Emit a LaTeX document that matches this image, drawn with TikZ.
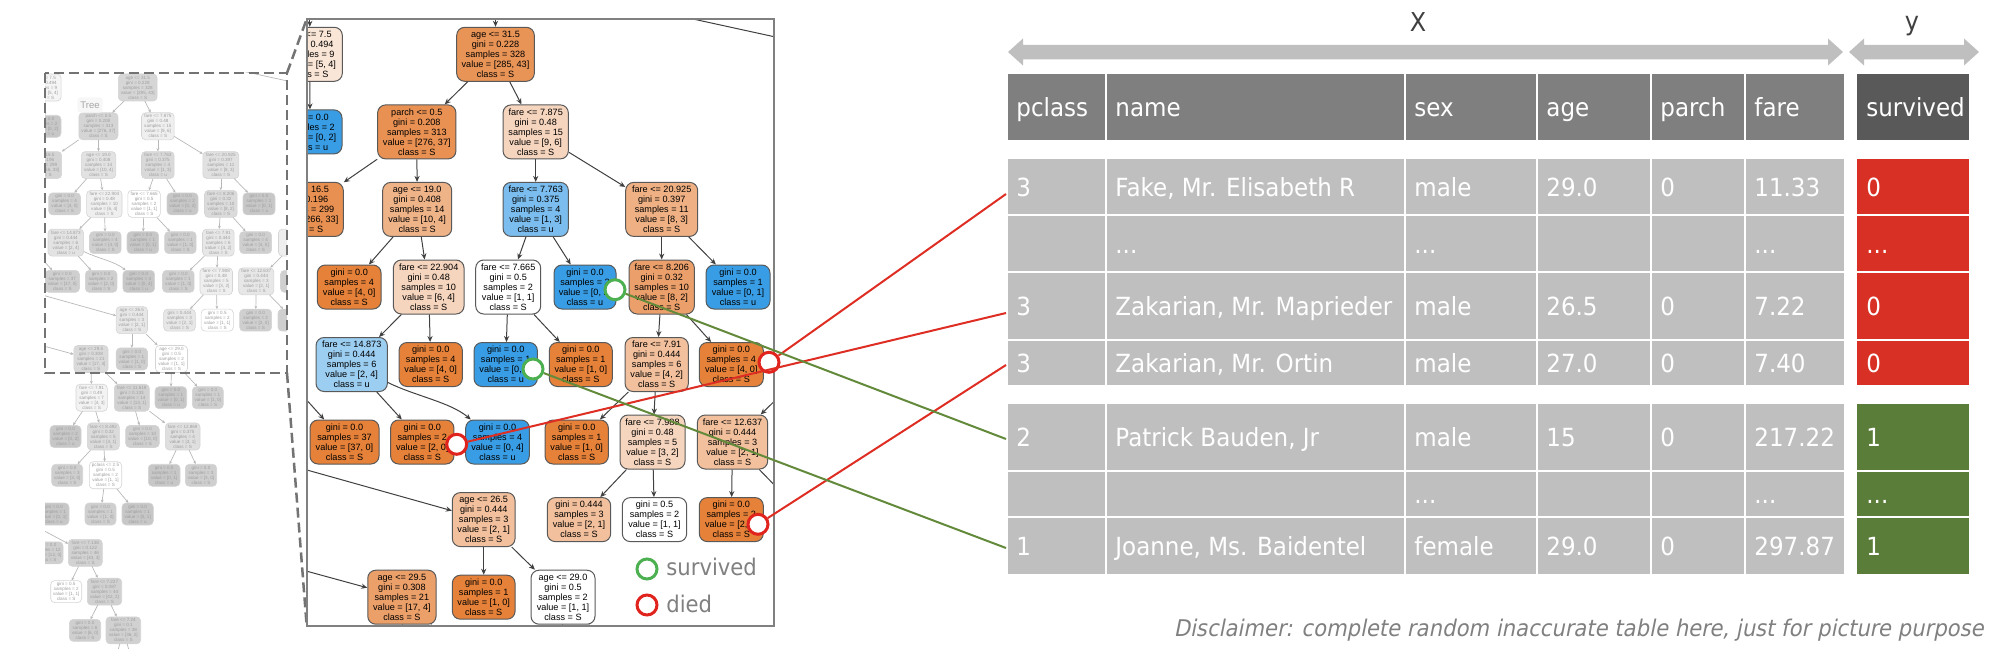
\documentclass[tikz,border=0pt]{standalone}
\usepackage{fontspec}
\setmainfont{Liberation Sans}
\newfontfamily\tabfont[FakeStretch=0.92]{DejaVu Sans}
\newfontfamily\discfont[FakeStretch=0.92,FakeSlant=0.2]{DejaVu Sans}
\usetikzlibrary{arrows.meta}
\definecolor{tOr}{RGB}{229,129,57}
\definecolor{tBl}{RGB}{57,157,229}
\definecolor{cellgray}{RGB}{191,191,191}
\definecolor{headgray}{RGB}{127,127,127}
\definecolor{headdark}{RGB}{89,89,89}
\definecolor{cellred}{RGB}{217,48,37}
\definecolor{cellgreen}{RGB}{91,125,58}
\definecolor{linered}{RGB}{222,45,35}
\definecolor{linegreen}{RGB}{98,138,58}
\definecolor{circgreen}{RGB}{76,175,80}
\definecolor{circred}{RGB}{225,35,30}
\definecolor{arrowgray}{RGB}{191,191,191}
\definecolor{panelgray}{RGB}{128,128,128}
\definecolor{labgray}{RGB}{64,64,64}
\colorlet{tO}{tOr}\colorlet{tB}{tBl}
\colorlet{ttext}{black}\colorlet{tdraw}{black!65}\colorlet{tedge}{black!75}
\tikzset{
 tn/.style={draw=tdraw, line width=0.5pt, rounded corners=4pt, align=center, inner sep=0pt, text=ttext, font=\fontsize{4.56}{5}\selectfont},
 tn5/.style={tn, minimum height=27pt},
 tn4/.style={tn, minimum height=22pt},
 wpx/.style={minimum width=#1*0.5pt},
 fo/.style={fill=tO!#1!white},
 fb/.style={fill=tB!#1!white},
 te/.style={draw=tedge, line width=0.5pt, -{Stealth[length=3pt,width=2.6pt]}},
 tl/.style={draw=tedge, line width=0.5pt},
 tt/.style={anchor=base west, text=white, inner sep=0pt, font=\tabfont\fontsize{12.5}{15}\selectfont},
 circ/.style={circle, minimum size=10pt, inner sep=0pt, line width=1.5pt, fill=white},
 con/.style={line width=1pt},
 legtxt/.style={anchor=base west, inner sep=0pt, text=panelgray, font=\tabfont\fontsize{11.5}{13}\selectfont},
 lab/.style={anchor=base, inner sep=0pt, text=labgray, font=\tabfont\fontsize{13}{15}\selectfont},
}
\newcommand\drawtree{%
\node[tn5,fo=20,wpx=65] (p1) at (309.8,54.3) {age <= 7.5\\gini = 0.494\\samples = 9\\value = [5, 4]\\class = S};
\node[tn4,fb=100,wpx=64] (p2) at (310,131.9) {gini = 0.0\\samples = 2\\value = [0, 2]\\class = u};
\node[tn5,fo=88,wpx=77.6] (p3) at (304.5,209.4) {age <= 16.5\\gini = 0.196\\samples = 299\\value = [266, 33]\\class = S};
\node[tn5,fo=85,wpx=77.6] (n0) at (495.5,54.3) {age <= 31.5\\gini = 0.228\\samples = 328\\value = [285, 43]\\class = S};
\node[tn5,fo=87,wpx=78.3] (n1) at (416.8,131.9) {parch <= 0.5\\gini = 0.208\\samples = 313\\value = [276, 37]\\class = S};
\node[tn5,fo=33,wpx=65.3] (n2) at (535.7,131.9) {fare <= 7.875\\gini = 0.48\\samples = 15\\value = [9, 6]\\class = S};
\node[tn5,fo=60,wpx=69] (n3) at (417.2,209.4) {age <= 19.0\\gini = 0.408\\samples = 14\\value = [10, 4]\\class = S};
\node[tn5,fb=67,wpx=65.3] (n4) at (535.7,209.4) {fare <= 7.763\\gini = 0.375\\samples = 4\\value = [1, 3]\\class = u};
\node[tn5,fo=62,wpx=72] (n5) at (661.7,209.4) {fare <= 20.925\\gini = 0.397\\samples = 11\\value = [8, 3]\\class = S};
\node[tn4,fo=100,wpx=63.7] (n6) at (349.2,287) {gini = 0.0\\samples = 4\\value = [4, 0]\\class = S};
\node[tn5,fo=33,wpx=70.7] (n7) at (428.7,287) {fare <= 22.904\\gini = 0.48\\samples = 10\\value = [6, 4]\\class = S};
\node[tn5,fo=0,wpx=65] (n8) at (508.2,287) {fare <= 7.665\\gini = 0.5\\samples = 2\\value = [1, 1]\\class = S};
\node[tn4,fb=100,wpx=62] (n9) at (585,287) {gini = 0.0\\samples = 2\\value = [0, 2]\\class = u};
\node[tn5,fo=75,wpx=65.3] (n10) at (661.7,287) {fare <= 8.206\\gini = 0.32\\samples = 10\\value = [8, 2]\\class = S};
\node[tn4,fb=100,wpx=64] (n11) at (738,287) {gini = 0.0\\samples = 1\\value = [0, 1]\\class = u};
\node[tn5,fb=50,wpx=71.3] (n12) at (351.7,364.5) {fare <= 14.873\\gini = 0.444\\samples = 6\\value = [2, 4]\\class = u};
\node[tn4,fo=100,wpx=63.3] (n13) at (430.7,364.5) {gini = 0.0\\samples = 4\\value = [4, 0]\\class = S};
\node[tn4,fb=100,wpx=63.3] (n14) at (505.7,364.5) {gini = 0.0\\samples = 1\\value = [0, 1]\\class = u};
\node[tn4,fo=100,wpx=63] (n15) at (580.8,364.5) {gini = 0.0\\samples = 1\\value = [1, 0]\\class = S};
\node[tn5,fo=50,wpx=63.3] (n16) at (656.7,364.5) {fare <= 7.91\\gini = 0.444\\samples = 6\\value = [4, 2]\\class = S};
\node[tn4,fo=100,wpx=64] (n17) at (731.3,364.5) {gini = 0.0\\samples = 4\\value = [4, 0]\\class = S};
\node[tn4,fo=100,wpx=69] (n18) at (344.5,442) {gini = 0.0\\samples = 37\\value = [37, 0]\\class = S};
\node[tn4,fo=100,wpx=63.3] (n19) at (422.3,442) {gini = 0.0\\samples = 2\\value = [2, 0]\\class = S};
\node[tn4,fb=100,wpx=63.6] (n20) at (497.5,442) {gini = 0.0\\samples = 4\\value = [0, 4]\\class = u};
\node[tn4,fo=100,wpx=63.3] (n21) at (576.7,442) {gini = 0.0\\samples = 1\\value = [1, 0]\\class = S};
\node[tn5,fo=33,wpx=65] (n22) at (652.5,442) {fare <= 7.988\\gini = 0.48\\samples = 5\\value = [3, 2]\\class = S};
\node[tn5,fo=50,wpx=70.4] (n23) at (732.5,442) {fare <= 12.637\\gini = 0.444\\samples = 3\\value = [2, 1]\\class = S};
\node[tn5,fo=50,wpx=62.7] (n24) at (483.7,519.6) {age <= 26.5\\gini = 0.444\\samples = 3\\value = [2, 1]\\class = S};
\node[tn4,fo=50,wpx=63.4] (n25) at (579,519.6) {gini = 0.444\\samples = 3\\value = [2, 1]\\class = S};
\node[tn4,fo=0,wpx=64.4] (n26) at (654.5,519.6) {gini = 0.5\\samples = 2\\value = [1, 1]\\class = S};
\node[tn4,fo=100,wpx=64] (n27) at (731.3,519.6) {gini = 0.0\\samples = 2\\value = [2, 0]\\class = S};
\node[tn5,fo=76,wpx=68.3] (n28) at (401.9,597.2) {age <= 29.5\\gini = 0.308\\samples = 21\\value = [17, 4]\\class = S};
\node[tn4,fo=100,wpx=62.7] (n29) at (483.7,597.2) {gini = 0.0\\samples = 1\\value = [1, 0]\\class = S};
\node[tn5,fo=0,wpx=64] (n30) at (563,597.2) {age <= 29.0\\gini = 0.5\\samples = 2\\value = [1, 1]\\class = S};
\node[tn5,fo=35,wpx=70] (r1) at (812,364.5) {};
\node[tn4,fo=100,wpx=64] (r2) at (813,442) {};
\node[tn4,fo=100,wpx=64] (r3) at (808,519.6) {};
\node[tn5,fo=25,wpx=62.6] (e1) at (403.3,674.7) {fare <= 7.91\\gini = 0.49\\samples = 7\\value = [4, 3]\\class = S};
\node[tn5,fo=92,wpx=70] (e2) at (483.6,674.7) {fare <= 11.619\\gini = 0.133\\samples = 14\\value = [13, 1]\\class = S};
\node[tn4,fb=100,wpx=63.4] (e3) at (561.7,674.7) {gini = 0.0\\samples = 1\\value = [0, 1]\\class = u};
\node[tn4,fo=100,wpx=62] (e4) at (635.6,674.7) {gini = 0.0\\samples = 1\\value = [1, 0]\\class = S};
\node[tn4,fb=100,wpx=62] (e5) at (351,752.25) {gini = 0.0\\samples = 2\\value = [0, 2]\\class = u};
\node[tn5,fo=75,wpx=64] (e6) at (426.6,752.25) {fare <= 8.492\\gini = 0.32\\samples = 5\\value = [4, 1]\\class = S};
\node[tn4,fo=100,wpx=67.2] (e7) at (505,752.25) {gini = 0.0\\samples = 10\\value = [10, 0]\\class = S};
\node[tn5,fo=67,wpx=69.4] (e8) at (585.3,752.25) {fare <= 12.869\\gini = 0.375\\samples = 4\\value = [3, 1]\\class = S};
\node[tn4,fo=100,wpx=62] (e9) at (354.4,829.8) {gini = 0.0\\samples = 3\\value = [3, 0]\\class = S};
\node[tn5,fo=0,wpx=64.8] (e10) at (431,829.8) {pclass <= 2.5\\gini = 0.5\\samples = 2\\value = [1, 1]\\class = S};
\node[tn4,fb=100,wpx=63.4] (e11) at (548.3,829.8) {gini = 0.0\\samples = 1\\value = [0, 1]\\class = u};
\node[tn4,fo=100,wpx=62.8] (e12) at (622,829.8) {gini = 0.0\\samples = 3\\value = [3, 0]\\class = S};
\node[tn4,fb=100,wpx=62] (e13) at (327,907.35) {gini = 0.0\\samples = 1\\value = [0, 1]\\class = u};
\node[tn4,fo=100,wpx=62] (e14) at (421,907.35) {gini = 0.0\\samples = 1\\value = [1, 0]\\class = S};
\node[tn4,fb=100,wpx=62.6] (e15) at (495.3,907.35) {gini = 0.0\\samples = 1\\value = [0, 1]\\class = u};
\node[tn4,fo=100,wpx=64] (e16) at (314,984.9) {gini = 0.0\\samples = 12\\value = [12, 0]\\class = S};
\node[tn5,fo=93,wpx=68] (e17) at (390.6,984.9) {fare <= 7.138\\gini = 0.122\\samples = 46\\value = [43, 3]\\class = S};
\node[tn4,fo=0,wpx=62] (e18) at (352.4,1062.45) {gini = 0.5\\samples = 2\\value = [1, 1]\\class = S};
\node[tn5,fo=95,wpx=68.8] (e19) at (429,1062.45) {fare <= 7.227\\gini = 0.087\\samples = 44\\value = [42, 2]\\class = S};
\node[tn4,fo=100,wpx=62.8] (e20) at (390,1140) {gini = 0.0\\samples = 6\\value = [6, 0]\\class = S};
\node[tn5,fo=94,wpx=69.4] (e21) at (466.7,1140) {fare <= 7.24\\gini = 0.1\\samples = 38\\value = [36, 2]\\class = S};
\coordinate (t0) at (495.5,-10);
\coordinate (tp1) at (309.8,-10);
\coordinate (rr1) at (600,-1.3);
\coordinate (rr2) at (900,64.2);
\coordinate (a18) at (285,376);
\coordinate (a24) at (200,440);
\coordinate (a28) at (200,542);
\coordinate (a17) at (200,883);
\coordinate (b1) at (440,1240);
\coordinate (b2) at (495,1240);
\draw[te] (t0) -- (n0);
\draw[te] (tp1) -- (p1);
\draw[tl] (rr1) -- (rr2);
\draw[te] (p1) -- (p2);
\draw[te] (n0) -- (n1);
\draw[te] (n0) -- (n2);
\draw[te] (n1) -- (p3);
\draw[te] (n1) -- (n3);
\draw[te] (n2) -- (n4);
\draw[te] (n2) -- (n5);
\draw[te] (n3) -- (n6);
\draw[te] (n3) -- (n7);
\draw[te] (n4) -- (n8);
\draw[te] (n4) -- (n9);
\draw[te] (n5) -- (n10);
\draw[te] (n5) -- (n11);
\draw[te] (n7) -- (n12);
\draw[te] (n7) -- (n13);
\draw[te] (n8) -- (n14);
\draw[te] (n8) -- (n15);
\draw[te] (n10) -- (n16);
\draw[te] (n10) -- (n17);
\draw[te] (a18) -- (n18);
\draw[te] (n12) -- (n19);
\draw[te] (n12) .. controls (415,396) and (450,402) .. (n20);
\draw[te] (n16) -- (n21);
\draw[te] (n16) -- (n22);
\draw[te] (r1) -- (n23);
\draw[te] (r1) -- (r2);
\draw[te] (a24) -- (n24);
\draw[te] (n22) -- (n25);
\draw[te] (n22) -- (n26);
\draw[te] (n23) -- (n27);
\draw[te] (n23) -- (r3);
\draw[te] (a28) -- (n28);
\draw[te] (n24) -- (n29);
\draw[te] (n24) -- (n30);
\draw[te] (n28) -- (e1);
\draw[te] (n28) -- (e2);
\draw[te] (n30) -- (e3);
\draw[te] (n30) -- (e4);
\draw[te] (e1) -- (e5);
\draw[te] (e1) -- (e6);
\draw[te] (e2) -- (e7);
\draw[te] (e2) -- (e8);
\draw[te] (e6) -- (e9);
\draw[te] (e6) -- (e10);
\draw[te] (e8) -- (e11);
\draw[te] (e8) -- (e12);
\draw[te] (e10) -- (e14);
\draw[te] (e10) -- (e15);
\draw[te] (a17) -- (e17);
\draw[te] (e17) -- (e18);
\draw[te] (e17) -- (e19);
\draw[te] (e19) -- (e20);
\draw[te] (e19) -- (e21);
\draw[tl] (e21) -- (b1);
\draw[tl] (e21) -- (b2);
}
\newcommand\trow[9]{%
 \node[tt] (#1a) at (1016,#2) {#3};
 \node[tt] (#1b) at (1115,#2) {#4};
 \node[tt] (#1c) at (1414,#2) {#5};
 \node[tt] (#1d) at (1546,#2) {#6};
 \node[tt] (#1e) at (1660,#2) {#7};
 \node[tt] (#1f) at (1754,#2) {#8};
 \node[tt] (#1g) at (1866,#2) {#9};}
\begin{document}
\begin{tikzpicture}[x=0.5pt,y=-0.5pt]
\useasboundingbox (0,0) rectangle (2000,658);
% ---------- overview tree (faded) ----------
\begin{scope}
\clip (45,73) rectangle (287,648);
\begin{scope}[shift={(-110,60.35)}, scale=0.5, every node/.append style={transform shape}]
\colorlet{tO}{black!19}\colorlet{tB}{black!22}
\colorlet{ttext}{black!38}\colorlet{tdraw}{black!17}\colorlet{tedge}{black!28}
\tikzset{tn/.append style={line width=0.3pt, rounded corners=2pt},
 te/.style={draw=tedge, line width=0.35pt, -{Stealth[length=1.6pt,width=1.4pt]}},
 tl/.style={draw=tedge, line width=0.35pt}}
\drawtree
\end{scope}
\end{scope}
\node[fill=black!3, rounded corners=1.5pt, inner sep=0pt, minimum width=12.7pt, minimum height=7.7pt, text=black!35, font=\fontsize{4.8}{5}\selectfont] (treelab) at (90,105) {Tree};
% ---------- zoom frame ----------
\coordinate (d1) at (45,73);
\coordinate (d2) at (287,373);
\coordinate (pa) at (306.7,19);
\coordinate (pb) at (774,626);
\draw[black!55, line width=1.25pt, dash pattern=on 5pt off 2.5pt] (d1) rectangle (d2);
\draw[black!55, line width=1.25pt, dash pattern=on 5pt off 2.5pt] (287,73) -- (306.7,19);
\draw[black!55, line width=1.25pt, dash pattern=on 5pt off 2.5pt] (287,373) -- (306.7,626);
% ---------- zoomed tree ----------
\begin{scope}
\clip (pa) rectangle (pb);
\drawtree
\end{scope}
\draw[panelgray, line width=1pt] (pa) rectangle (pb);
% legend
\node[circ, draw=circgreen] (lgs) at (647,569) {};
\node[legtxt] (lgst) at (666,575.5) {survived};
\node[circ, draw=circred] (lgd) at (647,605) {};
\node[legtxt] (lgdt) at (666,612.5) {died};
% ---------- table ----------
\fill[arrowgray] (1008,52) -- (1023,38.5) -- (1023,45) -- (1828,45) -- (1828,38.5) -- (1843,52) -- (1828,65.5) -- (1828,59.5) -- (1023,59.5) -- (1023,65.5) -- cycle;
\fill[arrowgray] (1849,52) -- (1864,38.5) -- (1864,45) -- (1964,45) -- (1964,38.5) -- (1979,52) -- (1964,65.5) -- (1964,59.5) -- (1864,59.5) -- (1864,65.5) -- cycle;
\node[lab] (labx) at (1418,31.5) {X};
\node[lab] (laby) at (1912,30.5) {y};
\foreach \a/\b in {1008/1105,1107/1404,1406/1536,1538/1650,1652/1744,1746/1844}{
  \fill[headgray] (\a,74) rectangle (\b,140);
  \foreach \c/\d in {159/214,216/271,273/339,341/385,404/470,472/516,518/574}
    \fill[cellgray] (\a,\c) rectangle (\b,\d);
}
\fill[headdark] (1857,74) rectangle (1969,140);
\foreach \c/\d in {159/214,216/271,273/339,341/385} \fill[cellred] (1857,\c) rectangle (1969,\d);
\foreach \c/\d in {404/470,472/516,518/574} \fill[cellgreen] (1857,\c) rectangle (1969,\d);
\trow{h}{117}{pclass}{name}{sex}{age}{parch}{fare}{survived}
\trow{ra}{196}{3}{Fake, Mr. Elisabeth R}{male}{29.0}{0}{11.33}{0}
\trow{rb}{253}{}{...}{...}{}{}{...}{...}
\trow{rc}{315.5}{3}{Zakarian, Mr. Maprieder}{male}{26.5}{0}{7.22}{0}
\trow{rd}{372.5}{3}{Zakarian, Mr. Ortin}{male}{27.0}{0}{7.40}{0}
\trow{re}{446.5}{2}{Patrick Bauden, Jr}{male}{15}{0}{217.22}{1}
\trow{rf}{503.5}{}{}{...}{}{}{...}{...}
\trow{rg}{555.5}{1}{Joanne, Ms. Baidentel}{female}{29.0}{0}{297.87}{1}
\node[anchor=base east, inner sep=0pt, text=panelgray, font=\discfont\fontsize{11.5}{13}\selectfont] (disc) at (1984,636) {Disclaimer: complete random inaccurate table here, just for picture purpose};
% ---------- markers and connectors ----------
\node[circ, draw=circgreen] (g1) at (615,289.7) {};
\node[circ, draw=circgreen] (g2) at (533,369) {};
\node[circ, draw=circred] (k1) at (769,362.3) {};
\node[circ, draw=circred] (k2) at (456.7,444.3) {};
\node[circ, draw=circred] (k3) at (758,524.3) {};
\coordinate (ca) at (1006,194);
\coordinate (cb) at (1006,313);
\coordinate (cc) at (1006,365);
\coordinate (cd) at (1006,439);
\coordinate (ce) at (1006,548);
\draw[con, linered] (k1) -- (ca);
\draw[con, linered] (k2) -- (cb);
\draw[con, linered] (k3) -- (cc);
\draw[con, linegreen] (g1) -- (cd);
\draw[con, linegreen] (g2) -- (ce);
\end{tikzpicture}
\end{document}
